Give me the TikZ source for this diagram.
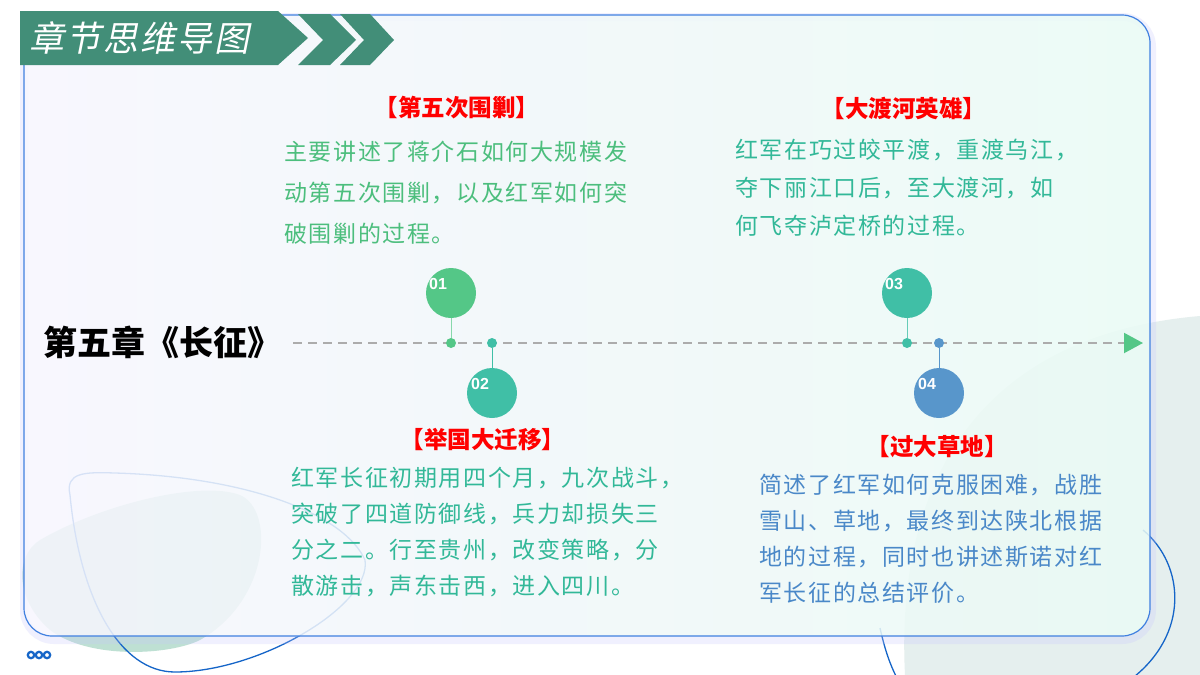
\documentclass[tikz,border=0pt]{standalone}
\usepackage{xcolor}
\usepackage{fontspec}
\setmainfont{Liberation Sans}
\newfontfamily\cjk{Noto Sans CJK SC}
\newfontfamily\cjkbody[LetterSpace=7]{Noto Sans CJK SC}
\newfontfamily\cjkhead{Noto Sans CJK SC}
\newfontfamily\cjkbanner[FakeSlant=0.2,LetterSpace=6]{Noto Sans CJK SC}
\usetikzlibrary{arrows.meta,positioning,shapes.geometric}
\definecolor{MBanner}{RGB}{66,142,120}
\definecolor{MGreen}{RGB}{84,199,135}
\definecolor{MTeal}{RGB}{64,191,166}
\definecolor{MBlue}{RGB}{88,150,203}
\definecolor{MTxtGreen}{RGB}{76,190,125}
\definecolor{MTxtTeal}{RGB}{50,184,152}
\definecolor{MTxtBlue}{RGB}{74,136,200}
\definecolor{MRed}{RGB}{255,0,0}
\definecolor{MCardLine}{RGB}{64,128,224}
\definecolor{MDash}{RGB}{172,172,172}
\definecolor{MMint}{RGB}{190,224,211}
\definecolor{MBlob}{RGB}{229,239,238}
\definecolor{MOutline}{RGB}{21,101,200}
\definecolor{MLav}{RGB}{247,246,254}
\definecolor{MMintCard}{RGB}{234,251,245}

\tikzset{
  card/.style={rounded corners=28pt, draw=MCardLine, line width=1.2pt,
    left color=MLav, right color=MMintCard, fill opacity=0.86},
  bigdot/.style={circle, minimum size=50pt, inner sep=0},
  smalldot/.style={circle, minimum size=10pt, inner sep=0},
  stem/.style={line width=1pt},
  numlbl/.style={text=white, font=\bfseries\fontsize{16pt}{16pt}\selectfont, inner sep=0},
  head/.style={text=MRed, font=\cjkhead\bfseries\fontsize{23.5pt}{26pt}\selectfont, inner sep=0},
  body/.style={align=left, anchor=north west, inner sep=0},
  timeline/.style={draw=MDash, line width=2pt, dash pattern=on 9pt off 6pt,
    -{Triangle[length=19pt,width=20pt,color=MGreen]}}
}

\begin{document}
\begin{tikzpicture}[x=1pt, y=-1pt]
  \useasboundingbox (0,0) rectangle (1200,675);
  \fill[white] (0,0) rectangle (1200,675);

  % background decoration
  \fill[MBlob] (905,675) .. controls (895,480) and (980,335) .. (1200,316) -- (1200,675) -- cycle;
  \draw[MOutline, line width=1.3pt] (880,628) .. controls (885,650) and (890,665) .. (898,680);
  \draw[MOutline, line width=1.3pt] (1143,530) .. controls (1185,565) and (1190,635) .. (1130,680);
  \fill[MMint] (40,540) .. controls (100,505) and (200,480) .. (240,495)
    .. controls (275,510) and (270,600) .. (200,640)
    .. controls (170,655) and (90,660) .. (50,630)
    .. controls (15,600) and (15,555) .. cycle;
  \draw[MOutline, line width=1.3pt] (70,495) .. controls (65,472) and (85,472) .. (115,473)
    .. controls (250,477) and (345,515) .. (365,560)
    .. controls (372,605) and (260,672) .. (175,672)
    .. controls (120,672) and (80,600) .. cycle;

  % card
  \draw[color=MLav!80!blue, opacity=0.25, line width=8pt, rounded corners=30pt] (24,17) rectangle (1152,640);
  \draw[card] (24,15) rectangle (1150,636);

  % banner
  \fill[MBanner] (20,11) -- (278,11) -- (308,38) -- (278,65) -- (20,65) -- cycle;
  \fill[MBanner] (298,14) -- (330,14) -- (356,40) -- (330,65) -- (298,65) -- (323,40) -- cycle;
  \fill[MBanner] (340,14) -- (370,14) -- (394,40) -- (370,65) -- (340,65) -- (364,40) -- cycle;
  \node[text=white, font=\cjkbanner\fontsize{35pt}{35pt}\selectfont, anchor=west, inner sep=0] (banner) at (29,38) {章节思维导图};

  % timeline
  \node[font=\cjk\bfseries\fontsize{34pt}{34pt}\selectfont, anchor=west, inner sep=0] (chap) at (43,342) {第五章《长征》};
  \coordinate (tlend) at (1143,343);
  \draw[timeline, shorten <=12pt] (chap.east |- tlend) -- (tlend);

  \node[smalldot, fill=MGreen] (d1) at (451,343) {};
  \node[smalldot, fill=MTeal] (d2) at (492,343) {};
  \node[smalldot, fill=MTeal] (d3) at (907,343) {};
  \node[smalldot, fill=MBlue] (d4) at (939,343) {};

  \node[bigdot, fill=MGreen] (c1) at (451,293) {};
  \node[bigdot, fill=MTeal] (c2) at (492,393) {};
  \node[bigdot, fill=MTeal] (c3) at (907,293) {};
  \node[bigdot, fill=MBlue] (c4) at (939,393) {};

  \draw[stem, MGreen!70] (d1) -- (c1);
  \draw[stem, MTeal] (d2) -- (c2);
  \draw[stem, MTeal!80] (d3) -- (c3);
  \draw[stem, MBlue] (d4) -- (c4);

  \node[numlbl] at ([shift={(-13pt,9pt)}]c1.center) {01};
  \node[numlbl] at ([shift={(-12pt,9pt)}]c2.center) {02};
  \node[numlbl] at ([shift={(-13pt,9pt)}]c3.center) {03};
  \node[numlbl] at ([shift={(-12pt,9pt)}]c4.center) {04};

  % texts
  \node[head] (h1) at (457,108) {【第五次围剿】};
  \node[body, text=MTxtGreen, font=\cjkbody\fontsize{23pt}{41pt}\selectfont] (t1) at (284,141)
    {主要讲述了蒋介石如何大规模发\\动第五次围剿，以及红军如何突\\破围剿的过程。};

  \node[head] (h2) at (904,108) {【大渡河英雄】};
  \node[body, text=MTxtTeal, font=\cjkbody\fontsize{23pt}{38pt}\selectfont] (t2) at (735,139)
    {红军在巧过皎平渡，重渡乌江，\\夺下丽江口后，至大渡河，如\\何飞夺泸定桥的过程。};

  \node[head] (h3) at (483,440) {【举国大迁移】};
  \node[body, text=MTxtTeal, font=\cjkbody\fontsize{23pt}{36pt}\selectfont] (t3) at (291,467)
    {红军长征初期用四个月，九次战斗，\\突破了四道防御线，兵力却损失三\\分之二。行至贵州，改变策略，分\\散游击，声东击西，进入四川。};

  \node[head] (h4) at (937,447) {【过大草地】};
  \node[body, text=MTxtBlue, font=\cjkbody\fontsize{23pt}{36pt}\selectfont] (t4) at (759,474)
    {简述了红军如何克服困难，战胜\\雪山、草地，最终到达陕北根据\\地的过程，同时也讲述斯诺对红\\军长征的总结评价。};

  % bottom dots
  \foreach \k in {0,1,2}
    \draw[MOutline, line width=2.2pt] (31+\k*8,655) circle (3.2);
\end{tikzpicture}
\end{document}
